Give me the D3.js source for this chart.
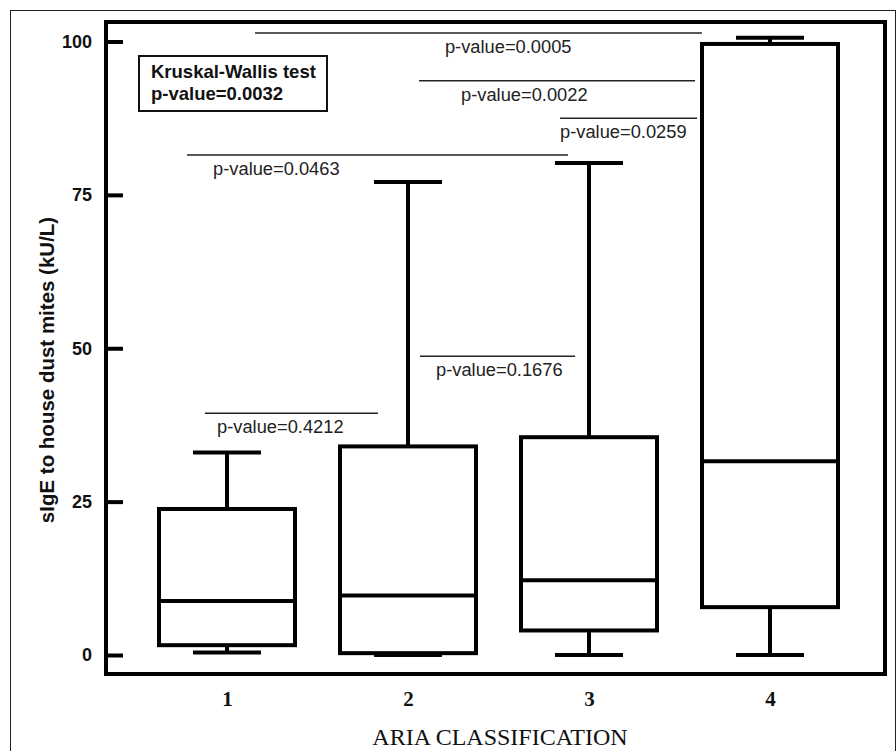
<!DOCTYPE html>
<html>
<head>
<meta charset="utf-8">
<script src="https://cdn.jsdelivr.net/npm/d3@7"></script>
<style>
  body { margin: 0; background: #fff; }
  svg { display: block; }
</style>
</head>
<body>
<div id="chart"></div>
<script>
// ARIA classes and the box summaries (kU/L)
var groups = [1, 2, 3, 4];
var whiskerLow  = [0.4, 0.0, 0.0, 0.0];
var q1          = [1.6, 0.3, 4.0, 7.8];
var median      = [8.8, 9.7, 12.2, 31.6];
var q3          = [23.8, 34.0, 35.5, 99.6];
var whiskerHigh = [33.0, 77.1, 80.2, 100.6];

var yTicks = [0, 25, 50, 75, 100];

// pairwise comparisons: bar from x1 to x2 (in class units), level in kU/L
var pLabels = ['p-value=0.0005', 'p-value=0.0022', 'p-value=0.0259',
               'p-value=0.0463', 'p-value=0.1676', 'p-value=0.4212'];
var pLevel  = [101.4, 93.6, 87.5, 81.5, 48.7, 39.4];
var pFrom   = [1.155, 2.061, 2.840, 0.779, 2.066, 0.878];
var pTo     = [3.624, 3.586, 3.597, 2.884, 2.923, 1.834];
var pTextAt = [2.204, 2.293, 2.840, 0.923, 2.155, 0.945];

var kwLines = ['Kruskal-Wallis test', 'p-value=0.0032'];

var width = 896, height = 751;
var frame = {left: 106, top: 22, right: 885, bottom: 674};

var svg = d3.select('#chart').append('svg')
    .attr('width', width)
    .attr('height', height);

// outer picture border
svg.append('rect')
    .attr('x', 10.5).attr('y', 10.5)
    .attr('width', 885).attr('height', 800)
    .attr('fill', 'none')
    .attr('stroke', '#222')
    .attr('stroke-width', 1);

var x = d3.scaleLinear().domain([1, 4]).range([227, 770]);
var y = d3.scaleLinear().domain([0, 100]).range([655, 41.5]);

// plot frame
svg.append('rect')
    .attr('x', frame.left).attr('y', frame.top)
    .attr('width', frame.right - frame.left)
    .attr('height', frame.bottom - frame.top)
    .attr('fill', 'none')
    .attr('stroke', '#000')
    .attr('stroke-width', 4);

var yAxis = svg.append('g')
    .attr('transform', 'translate(' + frame.left + ',0)')
    .call(d3.axisLeft(y).tickValues(yTicks).tickSize(-17).tickPadding(14));
yAxis.select('.domain').remove();
yAxis.selectAll('.tick line').attr('stroke', '#000').attr('stroke-width', 4);
yAxis.selectAll('.tick text')
    .attr('fill', '#111')
    .style('font-family', '"Liberation Sans", Arial, sans-serif')
    .style('font-weight', 'bold')
    .style('font-size', '18px');

var xAxis = svg.append('g')
    .attr('transform', 'translate(0,' + frame.bottom + ')')
    .call(d3.axisBottom(x).tickValues(groups).tickFormat(d3.format('d')).tickSize(0).tickPadding(17));
xAxis.select('.domain').remove();
xAxis.selectAll('.tick text')
    .attr('fill', '#111')
    .style('font-family', '"Liberation Serif", "Times New Roman", serif')
    .style('font-weight', 'bold')
    .style('font-size', '21px');

svg.append('text')
    .attr('x', 500).attr('y', 745)
    .attr('text-anchor', 'middle')
    .attr('fill', '#111')
    .style('font-family', '"Liberation Serif", "Times New Roman", serif')
    .style('font-size', '24px')
    .text('ARIA CLASSIFICATION');

svg.append('text')
    .attr('transform', 'translate(54,370) rotate(-90)')
    .attr('text-anchor', 'middle')
    .attr('fill', '#111')
    .style('font-family', '"Liberation Sans", Arial, sans-serif')
    .style('font-weight', 'bold')
    .style('font-size', '20.5px')
    .text('sIgE to house dust mites (kU/L)');

// boxes
var boxW = 136, capW = 68;
var boxes = groups.map(function(g, i) {
  return {g: g, lo: whiskerLow[i], q1: q1[i], med: median[i], q3: q3[i], hi: whiskerHigh[i]};
});

var box = svg.selectAll('g.box')
  .data(boxes)
  .enter().append('g')
    .attr('class', 'box')
    .attr('stroke', '#000')
    .attr('stroke-width', 4)
    .attr('fill', 'none');

box.append('line')
    .attr('x1', function(d) { return x(d.g); })
    .attr('x2', function(d) { return x(d.g); })
    .attr('y1', function(d) { return y(d.hi); })
    .attr('y2', function(d) { return y(d.q3); });

box.append('line')
    .attr('x1', function(d) { return x(d.g); })
    .attr('x2', function(d) { return x(d.g); })
    .attr('y1', function(d) { return y(d.q1); })
    .attr('y2', function(d) { return y(d.lo); });

box.append('line')
    .attr('x1', function(d) { return x(d.g) - capW / 2; })
    .attr('x2', function(d) { return x(d.g) + capW / 2; })
    .attr('y1', function(d) { return y(d.hi); })
    .attr('y2', function(d) { return y(d.hi); });

box.append('line')
    .attr('x1', function(d) { return x(d.g) - capW / 2; })
    .attr('x2', function(d) { return x(d.g) + capW / 2; })
    .attr('y1', function(d) { return y(d.lo); })
    .attr('y2', function(d) { return y(d.lo); });

box.append('rect')
    .attr('x', function(d) { return x(d.g) - boxW / 2; })
    .attr('y', function(d) { return y(d.q3); })
    .attr('width', boxW)
    .attr('height', function(d) { return y(d.q1) - y(d.q3); })
    .attr('fill', '#fff');

box.append('line')
    .attr('x1', function(d) { return x(d.g) - boxW / 2; })
    .attr('x2', function(d) { return x(d.g) + boxW / 2; })
    .attr('y1', function(d) { return y(d.med); })
    .attr('y2', function(d) { return y(d.med); });

// comparison bars
var comps = pLabels.map(function(t, i) {
  return {label: t, level: pLevel[i], from: pFrom[i], to: pTo[i], at: pTextAt[i]};
});

var comp = svg.selectAll('g.comp')
  .data(comps)
  .enter().append('g')
    .attr('class', 'comp');

comp.append('line')
    .attr('x1', function(d) { return x(d.from); })
    .attr('x2', function(d) { return x(d.to); })
    .attr('y1', function(d) { return y(d.level); })
    .attr('y2', function(d) { return y(d.level); })
    .attr('stroke', '#222')
    .attr('stroke-width', 1.5);

comp.append('text')
    .attr('x', function(d) { return x(d.at); })
    .attr('y', function(d) { return y(d.level) + 20; })
    .attr('fill', '#222')
    .style('font-family', '"Liberation Sans", Arial, sans-serif')
    .style('font-size', '18.3px')
    .text(function(d) { return d.label; });

// Kruskal-Wallis box
var kw = svg.append('g');
kw.append('rect')
    .attr('x', 139).attr('y', 56)
    .attr('width', 188).attr('height', 55)
    .attr('fill', '#fff')
    .attr('stroke', '#111')
    .attr('stroke-width', 2);
kw.selectAll('text')
  .data(kwLines)
  .enter().append('text')
    .attr('x', 151)
    .attr('y', function(d, i) { return 78 + i * 22; })
    .attr('fill', '#111')
    .style('font-family', '"Liberation Sans", Arial, sans-serif')
    .style('font-weight', 'bold')
    .style('font-size', '18.5px')
    .text(function(d) { return d; });
</script>
</body>
</html>
